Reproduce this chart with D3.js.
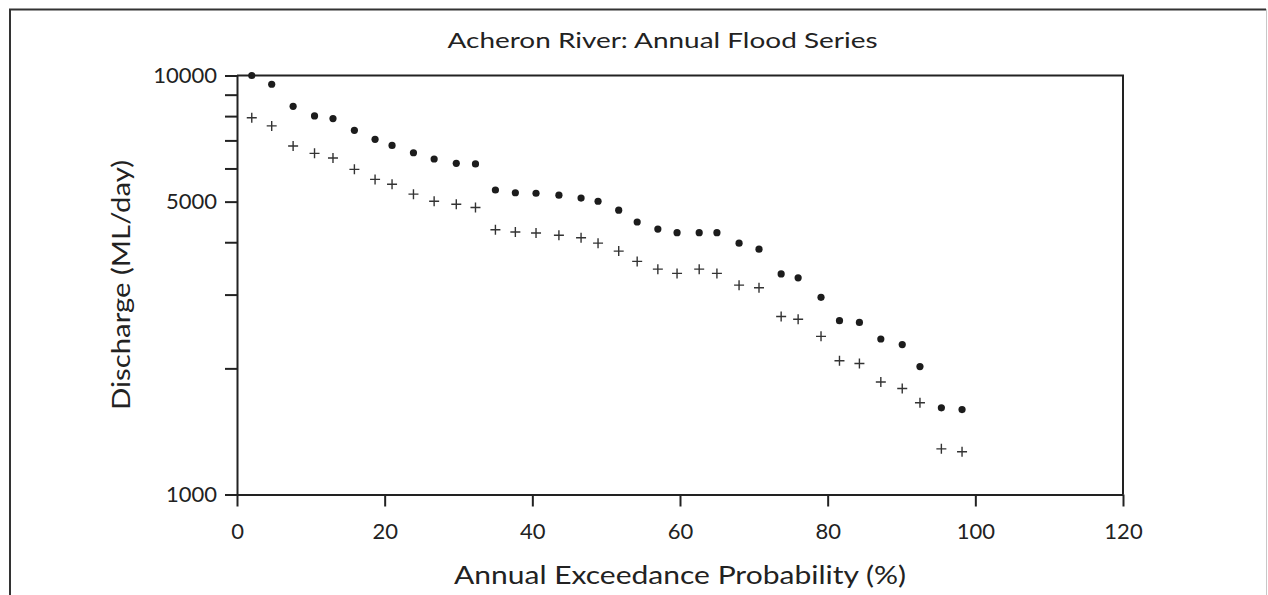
<!DOCTYPE html>
<html>
<head>
<meta charset="utf-8">
<script src="https://cdn.jsdelivr.net/npm/d3@7"></script>
<style>
  body { margin: 0; background: #fff; }
  svg { display: block; font-family: Lato, "Noto Sans", sans-serif; }
</style>
</head>
<body>
<svg id="svg" width="1268" height="595"></svg>
<script>
// ---- //
// Data //
// ---- //

// annual exceedance probability (%) for each ranked flood
const aep = [
  2.0, 4.7, 7.6, 10.5, 13.0, 15.9, 18.7, 21.0, 23.9, 26.7,
  29.7, 32.3, 35.0, 37.7, 40.5, 43.6, 46.6, 48.9, 51.7, 54.2,
  57.0, 59.6, 62.6, 65.0, 68.0, 70.7, 73.7, 76.0, 79.1, 81.6,
  84.3, 87.2, 90.1, 92.5, 95.4, 98.2
];
// upper series (dots), ML/day
const dischargeDots = [
  10000, 9530, 8440, 8010, 7890, 7400, 7040, 6810, 6540, 6320,
  6170, 6150, 5330, 5250, 5235, 5180, 5100, 5010, 4770, 4470,
  4300, 4215, 4215, 4215, 3980, 3850, 3360, 3290, 2955, 2600,
  2575, 2350, 2280, 2020, 1610, 1595
];
// lower series (crosses), ML/day
const dischargeCross = [
  7930, 7580, 6790, 6520, 6355, 5970, 5650, 5500, 5210, 5010,
  4930, 4840, 4285, 4230, 4210, 4155, 4100, 3980, 3810, 3600,
  3450, 3370, 3450, 3370, 3160, 3115, 2660, 2620, 2385, 2085,
  2055, 1855, 1790, 1655, 1285, 1265
];
const xTicks = [0, 20, 40, 60, 80, 100, 120];
const yTicks = [1000, 2000, 3000, 4000, 5000, 6000, 7000, 8000, 9000, 10000];
const yLabelled = [1000, 5000, 10000];

const title = "Acheron River: Annual Flood Series";
const xTitle = "Annual Exceedance Probability (%)";
const yTitle = "Discharge (ML/day)";

// ------ //
// Scales //
// ------ //

const ink = "#222";
const x = d3.scaleLinear().domain([0, 120]).range([237, 1123]);
const y = d3.scaleLog().domain([1000, 10000]).range([494.5, 75.5]);

const svg = d3.select("#svg");

// outer figure frame (bottom runs off the page)
svg.append("path")
  .attr("d", "M10,620V9.5H1266")
  .attr("fill", "none")
  .attr("stroke", "#333")
  .attr("stroke-width", 2);
svg.append("line")
  .attr("x1", 1266.5).attr("x2", 1266.5)
  .attr("y1", 9).attr("y2", 620)
  .attr("stroke", "#c8c8c8")
  .attr("stroke-width", 1);

// ---- //
// Axes //
// ---- //

const xAxis = svg.append("g")
  .attr("transform", `translate(0,${y(1000)})`)
  .call(d3.axisBottom(x)
    .tickValues(xTicks)
    .tickSize(12)
    .tickSizeOuter(0)
    .tickPadding(17)
    .tickFormat(d3.format("d")));

const yAxis = svg.append("g")
  .attr("transform", `translate(${x(0)},0)`)
  .call(d3.axisLeft(y)
    .tickValues(yTicks)
    .tickSize(12)
    .tickSizeOuter(0)
    .tickPadding(8)
    .tickFormat(d => yLabelled.includes(d) ? d3.format("d")(d) : ""));

[xAxis, yAxis].forEach(g => {
  g.select(".domain").attr("stroke", ink).attr("stroke-width", 2);
  g.selectAll(".tick line").attr("stroke", ink).attr("stroke-width", 2);
  g.selectAll(".tick text")
    .attr("fill", ink)
    .style("font-family", "Lato, sans-serif")
    .style("font-size", "22px");
});

// top and right frame of the plot
svg.append("path")
  .attr("d", `M${x(0)},${y(10000)}H${x(120)}V${y(1000)}`)
  .attr("fill", "none")
  .attr("stroke", ink)
  .attr("stroke-width", 2);

// ------ //
// Points //
// ------ //

svg.append("g")
  .selectAll("circle")
  .data(aep)
  .join("circle")
  .attr("cx", (d) => x(d))
  .attr("cy", (d, i) => y(dischargeDots[i]))
  .attr("r", 3.6)
  .attr("fill", "#1c1c1c");

svg.append("g")
  .selectAll("path")
  .data(aep)
  .join("path")
  .attr("transform", (d, i) => `translate(${x(d)},${y(dischargeCross[i])})`)
  .attr("d", "M-5,0H5M0,-5V5")
  .attr("stroke", "#333")
  .attr("stroke-width", 1.4)
  .attr("fill", "none");

// ------ //
// Titles //
// ------ //

function fitText(sel, width) {
  sel.attr("textLength", width).attr("lengthAdjust", "spacingAndGlyphs");
}

svg.append("text")
  .attr("x", 662.5)
  .attr("y", 48)
  .attr("text-anchor", "middle")
  .attr("fill", ink)
  .style("font-size", "22px")
  .text(title)
  .call(fitText, 430);

svg.append("text")
  .attr("x", (x(0) + x(120)) / 2)
  .attr("y", 584)
  .attr("text-anchor", "middle")
  .attr("fill", ink)
  .style("font-size", "25px")
  .text(xTitle)
  .call(fitText, 452);

svg.append("text")
  .attr("transform", `translate(130,${(y(1000) + y(10000)) / 2}) rotate(-90)`)
  .attr("text-anchor", "middle")
  .attr("fill", ink)
  .style("font-size", "25px")
  .text(yTitle)
  .call(fitText, 250);
</script>
</body>
</html>
